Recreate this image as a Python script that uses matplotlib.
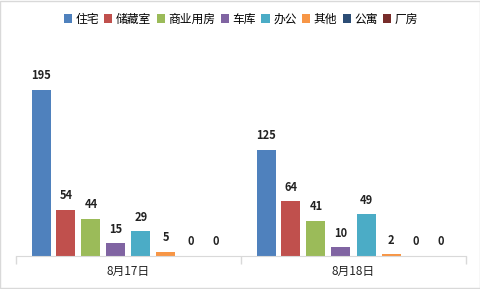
import numpy as np
import matplotlib
matplotlib.use('Agg')
from matplotlib import pyplot as plt

plt.rcParams['font.family'] = ['Noto Sans CJK SC', 'DejaVu Sans']

# 数据
dates = ['8月17日', '8月18日']
types = ['住宅', '储藏室', '商业用房', '车库', '办公', '其他', '公寓', '厂房']
v_0817 = [195, 54, 44, 15, 29, 5, 0, 0]
v_0818 = [125, 64, 41, 10, 49, 2, 0, 0]
colors = ['#4F81BD', '#C0504D', '#9BBB59', '#8064A2', '#4BACC6', '#F79646', '#2C4D75', '#772C2A']

vals = np.array([v_0817, v_0818])

fig = plt.figure(figsize=(4.81, 2.89), dpi=100)
ax = fig.add_axes([16/481, 33/289, 450/481, 213/289])

slot = 25/225
width = 19/225
x = np.arange(len(dates))
for i, t in enumerate(types):
    pos = x + (i - 3.5) * slot
    bars = ax.bar(pos, vals[:, i], width, color=colors[i], label=t)
    for b, v in zip(bars, vals[:, i]):
        ax.text(b.get_x() + b.get_width()/2, v + 9, str(v), ha='center', va='bottom',
                fontsize=8, fontweight='bold', color='#222222')

ax.set_xlim(-0.5, 1.5)
ax.set_ylim(0, 250)
ax.set_yticks([])
ax.set_xticks([-0.5, 0.5, 1.5])
ax.set_xticklabels([])
ax.tick_params(axis='x', length=6, color='#D9D9D9', width=1)
for s in ['top', 'left', 'right']:
    ax.spines[s].set_visible(False)
ax.spines['bottom'].set_color('#D9D9D9')
for xi, d in zip(x, dates):
    ax.text(xi, -18, d, ha='center', va='center', fontsize=8.5, color='#222222')

ax.legend(loc='upper center', bbox_to_anchor=(225/450, 1 + 35/213), ncol=8, frameon=False,
          fontsize=8.5, handlelength=0.7, handleheight=0.7, handletextpad=0.3,
          columnspacing=0.45, borderaxespad=0)

# 外框
fig.patches.append(plt.Rectangle((0.001, 0.002), 0.997, 0.995, transform=fig.transFigure,
                                 fill=False, edgecolor='#D9D9D9', linewidth=1))

plt.savefig('out.png', dpi=100)
